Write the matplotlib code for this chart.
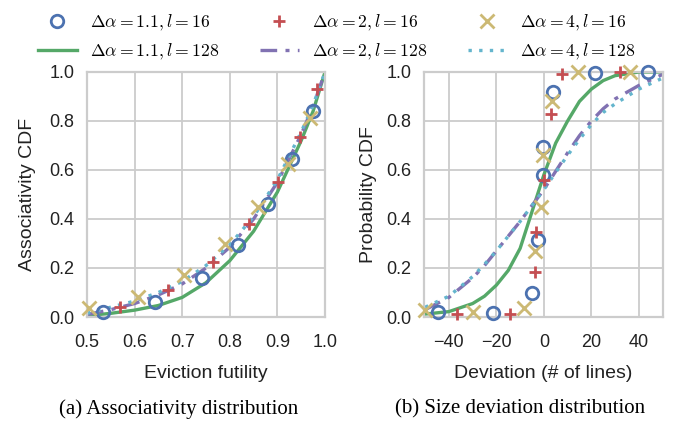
import matplotlib
matplotlib.use('Agg')
import matplotlib.pyplot as plt
from matplotlib.lines import Line2D

plt.rcParams['font.family'] = ['Liberation Sans', 'DejaVu Sans']
plt.rcParams['mathtext.fontset'] = 'cm'

# colours (seaborn "deep", old style)
BLUE = '#4C72B0'
GREEN = '#55A868'
RED = '#C44E52'
PURPLE = '#8172B2'
YELLOW = '#CCB974'
CYAN = '#64B5CD'

labels = [r'$\Delta\alpha=1.1,l=16$', r'$\Delta\alpha=1.1,l=128$',
          r'$\Delta\alpha=2,l=16$', r'$\Delta\alpha=2,l=128$',
          r'$\Delta\alpha=4,l=16$', r'$\Delta\alpha=4,l=128$']

# ---- (a) associativity: eviction futility CDF ----
a_circ_x = [0.534, 0.643, 0.741, 0.818, 0.881, 0.931, 0.975]
a_circ_y = [0.022, 0.060, 0.158, 0.294, 0.461, 0.645, 0.841]
a_plus_x = [0.569, 0.671, 0.765, 0.841, 0.902, 0.947, 0.984]
a_plus_y = [0.042, 0.110, 0.226, 0.380, 0.552, 0.736, 0.929]
a_xmk_x = [0.505, 0.608, 0.704, 0.790, 0.860, 0.922, 0.969]
a_xmk_y = [0.035, 0.083, 0.171, 0.297, 0.450, 0.624, 0.811]

a_line_x = [0.50, 0.55, 0.60, 0.65, 0.70, 0.75, 0.80, 0.85, 0.90, 0.95, 0.975, 1.00]
a_green = [0.005, 0.015, 0.028, 0.047, 0.080, 0.140, 0.230, 0.350, 0.510, 0.720, 0.840, 1.00]
a_purple = [0.010, 0.030, 0.055, 0.090, 0.135, 0.200, 0.285, 0.400, 0.550, 0.745, 0.860, 1.00]
a_cyan = [0.015, 0.040, 0.065, 0.100, 0.145, 0.210, 0.295, 0.410, 0.560, 0.755, 0.865, 1.00]

# ---- (b) size deviation CDF ----
b_circ_x = [-44.5, -21.5, -5.2, -2.4, -0.3, -0.3, 3.9, 21.5, 44.0]
b_circ_y = [0.020, 0.015, 0.097, 0.314, 0.580, 0.694, 0.920, 0.996, 1.000]
b_plus_x = [-36.8, -14.3, -3.8, -3.1, 0.0, 2.8, 7.8, 32.0]
b_plus_y = [0.012, 0.012, 0.185, 0.348, 0.559, 0.830, 0.990, 0.998]
b_xmk_x = [-50.0, -29.8, -8.4, -3.8, -1.0, -0.3, 3.6, 14.5, 36.2]
b_xmk_y = [0.030, 0.020, 0.035, 0.270, 0.450, 0.660, 0.880, 0.998, 1.000]

b_line_x = [-50, -40, -30, -25, -20, -15, -10, -5, 0, 5, 10, 15, 20, 25, 30, 40, 50]
b_green = [0.012, 0.022, 0.055, 0.085, 0.130, 0.190, 0.280, 0.430, 0.580, 0.710, 0.800,
           0.880, 0.930, 0.965, 0.985, 1.000, 1.000]
b_purple = [0.030, 0.080, 0.160, 0.210, 0.270, 0.330, 0.390, 0.455, 0.520, 0.595, 0.670,
            0.740, 0.800, 0.850, 0.890, 0.945, 0.990]
b_cyan = [0.040, 0.085, 0.165, 0.215, 0.270, 0.330, 0.390, 0.455, 0.520, 0.590, 0.660,
          0.725, 0.785, 0.835, 0.870, 0.930, 0.975]

W, H = 675, 421
fig = plt.figure(figsize=(W / 100, H / 100), dpi=100)
ax1 = fig.add_axes([87 / W, 1 - 317 / H, 238 / W, 245 / H])
ax2 = fig.add_axes([424 / W, 1 - 317 / H, 239 / W, 245 / H])

mk = dict(linestyle='none', markersize=9, markeredgewidth=2, clip_on=False, zorder=3)
lw = 2.4
dashdot = (0, (5, 2.5, 1.2, 2.5))
dotted = (0, (1, 2.2))


def style(ax):
    ax.set_facecolor('white')
    ax.grid(True, color='#cccccc', linewidth=1.3)
    ax.set_axisbelow(True)
    for s in ax.spines.values():
        s.set_color('#cccccc')
        s.set_linewidth(1.6)
    ax.tick_params(length=0, labelsize=13, colors='#222222')
    ax.tick_params(axis='y', pad=9)
    ax.tick_params(axis='x', pad=12.5)
    ax.set_ylim(0, 1)
    ax.set_yticks([0, 0.2, 0.4, 0.6, 0.8, 1.0])


def draw(ax, lx, g, p, c, cx, cy, px, py, xx, xy):
    ax.plot(lx, g, color=GREEN, lw=lw, zorder=2)
    ax.plot(lx, p, color=PURPLE, lw=lw, linestyle=dashdot, zorder=2)
    ax.plot(lx, c, color=CYAN, lw=lw, linestyle=dotted, zorder=2)
    ax.plot(cx, cy, marker='o', markerfacecolor='none', markeredgecolor=BLUE, **mk)
    ax.plot(px, py, marker='+', color=RED, **mk)
    ax.plot(xx, xy, marker='x', color=YELLOW, markersize=10, markeredgewidth=2,
            linestyle='none', clip_on=False, zorder=3)


style(ax1)
draw(ax1, a_line_x, a_green, a_purple, a_cyan, a_circ_x, a_circ_y,
     a_plus_x, a_plus_y, a_xmk_x, a_xmk_y)
ax1.set_xlim(0.5, 1.0)
ax1.set_xticks([0.5, 0.6, 0.7, 0.8, 0.9, 1.0])
ax1.set_xticklabels(['0.5', '0.6', '0.7', '0.8', '0.9', '1.0'])
ax1.set_yticklabels(['0.0', '0.2', '0.4', '0.6', '0.8', '1.0'])
ax1.set_xlabel('Eviction futility', fontsize=14, labelpad=9.5, color='#222222')
ax1.set_ylabel('Associativity CDF', fontsize=14, labelpad=9.5, color='#222222')

style(ax2)
draw(ax2, b_line_x, b_green, b_purple, b_cyan, b_circ_x, b_circ_y,
     b_plus_x, b_plus_y, b_xmk_x, b_xmk_y)
ax2.set_xlim(-50.5, 50.2)
ax2.set_xticks([-40, -20, 0, 20, 40])
ax2.set_xticklabels(['\u221240', '\u221220', '0', '20', '40'])
ax2.set_yticklabels(['0.0', '0.2', '0.4', '0.6', '0.8', '1.0'])
ax2.set_xlabel('Deviation (# of lines)', fontsize=14, labelpad=9.5, color='#222222')
ax2.set_ylabel('Probability CDF', fontsize=14, labelpad=7, color='#222222')

handles = [
    Line2D([], [], marker='o', linestyle='none', markerfacecolor='none',
           markeredgecolor=BLUE, markersize=9, markeredgewidth=2),
    Line2D([], [], color=GREEN, lw=lw),
    Line2D([], [], marker='+', linestyle='none', color=RED, markersize=9, markeredgewidth=2),
    Line2D([], [], color=PURPLE, lw=lw, linestyle=dashdot),
    Line2D([], [], marker='x', linestyle='none', color=YELLOW, markersize=10, markeredgewidth=2),
    Line2D([], [], color=CYAN, lw=lw, linestyle=dotted),
]
fig.legend(handles, labels, ncol=3, loc='upper left', bbox_to_anchor=(38 / W, 1 - 13 / H),
           frameon=False, fontsize=12.7, handlelength=2.2, columnspacing=2.3,
           handletextpad=0.75, labelspacing=0.5, borderaxespad=0, borderpad=0,
           numpoints=1)

serif = ['Liberation Serif', 'DejaVu Serif']
fig.text(179 / W, 1 - 409 / H, '(a) Associativity distribution', family=serif,
         fontsize=15, ha='center', va='center')
fig.text(520 / W, 1 - 409 / H, '(b) Size deviation distribution', family=serif,
         fontsize=15, ha='center', va='center')

fig.savefig('out.png', dpi=100)
